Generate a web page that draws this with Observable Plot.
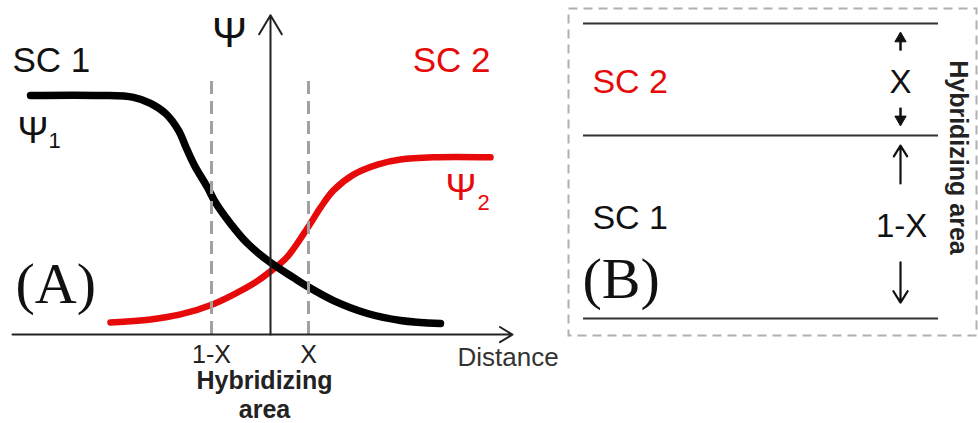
<!DOCTYPE html>
<html>
<head>
<meta charset="utf-8">
<script src="https://cdn.jsdelivr.net/npm/d3@7"></script>
<script src="https://cdn.jsdelivr.net/npm/@observablehq/plot@0.6"></script>
<style>
  html, body { margin: 0; padding: 0; background: #fff; }
  #figure { display: flex; width: 978px; height: 423px; overflow: hidden; }
  #figure svg { display: block; }
</style>
</head>
<body>
<div id="figure"></div>
<script>
// Panel A: genetic profiles across the contact zone
const distance1 = [-2.40, -1.70, -1.37, -1.20, -1.05, -0.92, -0.84, -0.76, -0.63, -0.55, -0.40, -0.23, 0.00, 0.23, 0.37, 0.63, 0.97, 1.30, 1.70];
const psi1      = [1.000, 1.000, 0.992, 0.967, 0.925, 0.854, 0.778, 0.707, 0.615, 0.552, 0.464, 0.381, 0.301, 0.238, 0.201, 0.142, 0.088, 0.059, 0.046];
const distance2 = [-1.60, -1.20, -0.90, -0.58, -0.37, -0.17, 0.00, 0.17, 0.38, 0.50, 0.63, 0.83, 1.07, 1.30, 1.63, 2.20];
const psi2      = [0.050, 0.063, 0.084, 0.126, 0.167, 0.213, 0.264, 0.326, 0.452, 0.531, 0.603, 0.669, 0.711, 0.732, 0.741, 0.741];
const hybridEdges = [-0.59, 0.38];
const hybridTicks = ["1-X", "X"];

// Panel B: share of the hybridizing area held by each cluster
const zoneEdges = [0, 0.62, 1];
const zoneNames = ["SC 1", "SC 2"];

const RED = "#e60a0a";
const SANS = "'Liberation Sans', Arial, sans-serif";
const SERIF = "'Liberation Serif', 'Times New Roman', serif";

const profile1 = distance1.map((d, i) => ({d, psi: psi1[i]}));
const profile2 = distance2.map((d, i) => ({d, psi: psi2[i]}));

const plotA = Plot.plot({
  width: 560,
  height: 423,
  margin: 0,
  x: {domain: [-2.70, 2.90], axis: null},
  y: {domain: [-0.372, 1.397], axis: null},
  style: {fontFamily: SANS, background: "#fff", overflow: "visible"},
  marks: [
    Plot.line(profile2, {x: "d", y: "psi", curve: "catmull-rom", stroke: RED, strokeWidth: 6.5}),
    Plot.line(profile1, {x: "d", y: "psi", curve: "catmull-rom", stroke: "#000", strokeWidth: 7.5}),
    Plot.ruleX(hybridEdges, {y1: 0, y2: 1.084, stroke: "#a0a0a0", strokeWidth: 3, strokeDasharray: "13,7"}),
    // axes with arrowheads
    Plot.arrow([0], {x1: -2.58, x2: 2.42, y1: 0, y2: 0, stroke: "#222", strokeWidth: 2, headLength: 11, headAngle: 62}),
    Plot.arrow([0], {x1: 0, x2: 0, y1: 0, y2: 1.335, stroke: "#222", strokeWidth: 2, headLength: 16.5, headAngle: 62}),
    Plot.text(hybridEdges, {x: d => d, y: -0.117, text: (d, i) => hybridTicks[i], fontSize: 25, fill: "#222", lineAnchor: "bottom"}),
    Plot.text(["Distance"], {x: 1.87, y: -0.130, text: d => d, fontSize: 26, fill: "#333", textAnchor: "start", lineAnchor: "bottom"}),
    Plot.text(["Hybridizing", "area"], {x: -0.06, y: (d, i) => i ? -0.351 : -0.226, text: d => d, fontSize: 25, fontWeight: "bold", fill: "#222", lineAnchor: "bottom"}),
    Plot.text(["Ψ"], {x: -0.41, y: 1.201, text: d => d, fontSize: 42, fill: "#111", lineAnchor: "bottom"}),
    // cluster labels
    Plot.text([zoneNames[0]], {x: -2.58, y: 1.096, text: d => d, fontSize: 35, fill: "#111", textAnchor: "start", lineAnchor: "bottom"}),
    Plot.text([zoneNames[1]], {x: 2.20, y: 1.096, text: d => d, fontSize: 35, fill: RED, textAnchor: "end", lineAnchor: "bottom"}),
    Plot.text(["Ψ"], {x: -2.53, y: 0.799, text: d => d, fontSize: 37, fill: "#111", textAnchor: "start", lineAnchor: "bottom"}),
    Plot.text(["1"], {x: -2.22, y: 0.782, text: d => d, fontSize: 22, fill: "#111", textAnchor: "start", lineAnchor: "bottom"}),
    Plot.text(["Ψ"], {x: 1.75, y: 0.561, text: d => d, fontSize: 37, fill: RED, textAnchor: "start", lineAnchor: "bottom"}),
    Plot.text(["2"], {x: 2.07, y: 0.519, text: d => d, fontSize: 22, fill: RED, textAnchor: "start", lineAnchor: "bottom"}),
    Plot.text(["(A)"], {x: -2.55, y: 0.134, text: d => d, fontSize: 58, fontFamily: SERIF, fill: "#111", textAnchor: "start", lineAnchor: "bottom"})
  ]
});

const plotB = Plot.plot({
  width: 418,
  height: 423,
  margin: 0,
  x: {domain: [-0.0648, 1.1127], axis: null},
  y: {domain: [-0.3559, 1.0780], axis: null},
  style: {fontFamily: SANS, background: "#fff", overflow: "visible"},
  marks: [
    Plot.frame({stroke: "#b0b0b0", strokeWidth: 2, strokeDasharray: "9,6", insetLeft: 8, insetTop: 8, insetRight: 2, insetBottom: 88}),
    Plot.ruleY(zoneEdges, {x1: 0, x2: 1, stroke: "#333", strokeWidth: 2}),
    Plot.text([zoneNames[1]], {x: 0.025, y: 0.766, text: d => d, fontSize: 34, fill: RED, textAnchor: "start", lineAnchor: "bottom"}),
    Plot.text([zoneNames[0]], {x: 0.025, y: 0.305, text: d => d, fontSize: 34, fill: "#111", textAnchor: "start", lineAnchor: "bottom"}),
    Plot.text(["(B)"], {x: -0.003, y: 0.068, text: d => d, fontSize: 58, fontFamily: SERIF, fill: "#111", textAnchor: "start", lineAnchor: "bottom"}),
    // short arrows bracketing the X share: shaft plus solid head
    Plot.link([[0.908, 0.949], [0.715, 0.675]], {x1: 0.893, x2: 0.893, y1: d => d[0], y2: d => d[1], stroke: "#111", strokeWidth: 2.5}),
    Plot.dot([[0.949, 0], [0.675, 180]], {x: 0.893, y: d => d[0], rotate: d => d[1], symbol: "triangle", r: 4.2, fill: "#111", stroke: "#111", strokeWidth: 1}),
    // longer arrows bracketing the 1-X share
    Plot.arrow([[0.458, 0.586], [0.190, 0.054]], {x1: 0.893, x2: 0.893, y1: d => d[0], y2: d => d[1], stroke: "#111", strokeWidth: 2.2, headLength: 10, headAngle: 64}),
    Plot.text(["X"], {x: 0.893, y: 0.763, text: d => d, fontSize: 33, fill: "#111", lineAnchor: "bottom"}),
    Plot.text(["1-X"], {x: 0.896, y: 0.275, text: d => d, fontSize: 33, fill: "#111", lineAnchor: "bottom"}),
    Plot.text(["Hybridizing area"], {x: 1.056, y: 0.546, text: d => d, rotate: 90, fontSize: 25, fontWeight: "bold", fill: "#222", lineAnchor: "middle"})
  ]
});

const fig = document.getElementById("figure");
fig.append(plotA, plotB);
</script>
</body>
</html>
